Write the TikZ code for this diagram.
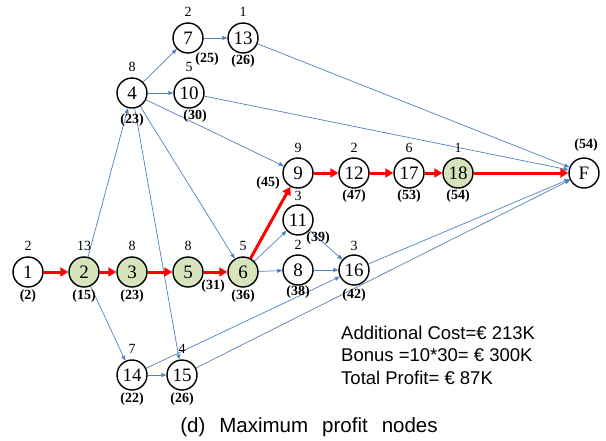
\documentclass[tikz,border=0pt]{standalone}
\usepackage{fontspec}
\setmainfont{Liberation Serif}
\newfontfamily\txtfont{Liberation Sans}
\usetikzlibrary{arrows.meta,backgrounds}
\definecolor{nodegreen}{RGB}{214,227,188}
\definecolor{edgeblue}{RGB}{79,129,189}
\tikzset{
  act/.style={circle,draw=black,fill=white,line width=1.4pt,minimum size=30pt,inner sep=0pt,font=\fontsize{19}{19}\selectfont},
  crit/.style={act,fill=nodegreen},
  toplab/.style={inner sep=0pt,font=\fontsize{14}{14}\selectfont},
  botlab/.style={inner sep=0pt,font=\fontsize{14}{14}\selectfont\bfseries},
  thin/.style={draw=edgeblue,line width=0.7pt,-{Triangle[length=5pt,width=4pt]}},
  redarr/.style={draw=red,line width=3pt,-{Triangle[length=8pt,width=9pt]}},
}
\begin{document}
\begin{tikzpicture}[x=1pt,y=-1pt]
\useasboundingbox (0,0) rectangle (606,440);
% nodes
\node[act]  (n1)  at (28,272)  {1};
\node[crit] (n2)  at (84,272)  {2};
\node[crit] (n3)  at (132,272) {3};
\node[crit] (n5)  at (188,272) {5};
\node[crit] (n6)  at (243,272) {6};
\node[act]  (n8)  at (298,270) {8};
\node[act]  (n16) at (354,270) {16};
\node[act]  (n11) at (298,220) {11};
\node[act]  (n9)  at (298,173) {9};
\node[act]  (n12) at (354,173) {12};
\node[act]  (n17) at (409,173) {17};
\node[crit] (n18) at (458,173) {18};
\node[act]  (nF)  at (584,173) {F};
\node[act]  (n4)  at (132,93)  {4};
\node[act]  (n10) at (189,93)  {10};
\node[act]  (n7)  at (188,38)  {7};
\node[act]  (n13) at (243,38)  {13};
\node[act]  (n14) at (132,375) {14};
\node[act]  (n15) at (182,375) {15};
% top labels
\node[toplab] (t1)  at (28,246)  {2};
\node[toplab] (t2)  at (84,246)  {13};
\node[toplab] (t3)  at (132,246) {8};
\node[toplab] (t5)  at (188,246) {8};
\node[toplab] (t6)  at (243,246) {5};
\node[toplab] (t8)  at (298,245) {2};
\node[toplab] (t16) at (354,246) {3};
\node[toplab] (t11) at (298,196) {3};
\node[toplab] (t9)  at (298,148) {9};
\node[toplab] (t12) at (354,148) {2};
\node[toplab] (t17) at (409,148) {6};
\node[toplab] (t18) at (458,148) {1};
\node[toplab] (t4)  at (132,67)  {8};
\node[toplab] (t10) at (189,67)  {5};
\node[toplab] (t7)  at (188,12)  {2};
\node[toplab] (t13) at (243,12)  {1};
\node[toplab] (t14) at (132,349) {7};
\node[toplab] (t15) at (182,349) {4};
% bottom labels
\node[botlab] (b1)  at (28,296)  {(2)};
\node[botlab] (b2)  at (84,296)  {(15)};
\node[botlab] (b3)  at (132,296) {(23)};
\node[botlab] (b5)  at (213,286) {(31)};
\node[botlab] (b6)  at (243,296) {(36)};
\node[botlab] (b8)  at (298,292) {(38)};
\node[botlab] (b16) at (354,295) {(42)};
\node[botlab] (b11) at (318,238) {(39)};
\node[botlab] (b9)  at (268,183) {(45)};
\node[botlab] (b12) at (354,196) {(47)};
\node[botlab] (b17) at (409,196) {(53)};
\node[botlab] (b18) at (458,196) {(54)};
\node[botlab] (bF)  at (586,145) {(54)};
\node[botlab] (b4)  at (132,120) {(23)};
\node[botlab] (b10) at (195,116) {(30)};
\node[botlab] (b7)  at (207,59)  {(25)};
\node[botlab] (b13) at (243,61)  {(26)};
\node[botlab] (b14) at (132,399) {(22)};
\node[botlab] (b15) at (182,399) {(26)};
\begin{scope}[on background layer]
% thin edges
\draw[thin] (n2) -- (n4);
\draw[thin] (n2) -- (n14);
\draw[thin] (n4) -- (n7);
\draw[thin] (n4) -- (n10);
\draw[thin] (n4) -- (n9);
\draw[thin] (n4) -- (n6);
\draw[thin] (n4) -- (n15);
\draw[thin] (n7) -- (n13);
\draw[thin] (n13) -- (nF);
\draw[thin] (n10) -- (nF);
\draw[thin] (n6) -- (n11);
\draw[thin] (n6) -- (n8);
\draw[thin] (n11) -- (n16);
\draw[thin] (n8) -- (n16);
\draw[thin] (n16) -- (nF);
\draw[thin] (n14) -- (n15);
\draw[thin] (n14) -- (n16);
\draw[thin] (n15) -- (nF);
% critical path
\draw[redarr] (n1) -- (n2);
\draw[redarr] (n2) -- (n3);
\draw[redarr] (n3) -- (n5);
\draw[redarr] (n5) -- (n6);
\draw[redarr] (n6) -- (n9);
\draw[redarr] (n9) -- (n12);
\draw[redarr] (n12) -- (n17);
\draw[redarr] (n17) -- (n18);
\draw[redarr] (n18) -- (nF);
\end{scope}
% text
\node[anchor=west,align=left,inner sep=0pt,font=\txtfont\fontsize{18.5}{22.5}\selectfont] (info) at (341,355)
  {Additional Cost=€ 213K\\Bonus =10*30= € 300K\\Total Profit= € 87K};
\node[inner sep=0pt,font=\txtfont\fontsize{20.5}{20.5}\selectfont] (cap) at (309,427)
  {(d)\hspace{14pt}Maximum\hspace{14pt}profit\hspace{14pt}nodes};
\end{tikzpicture}
\end{document}
